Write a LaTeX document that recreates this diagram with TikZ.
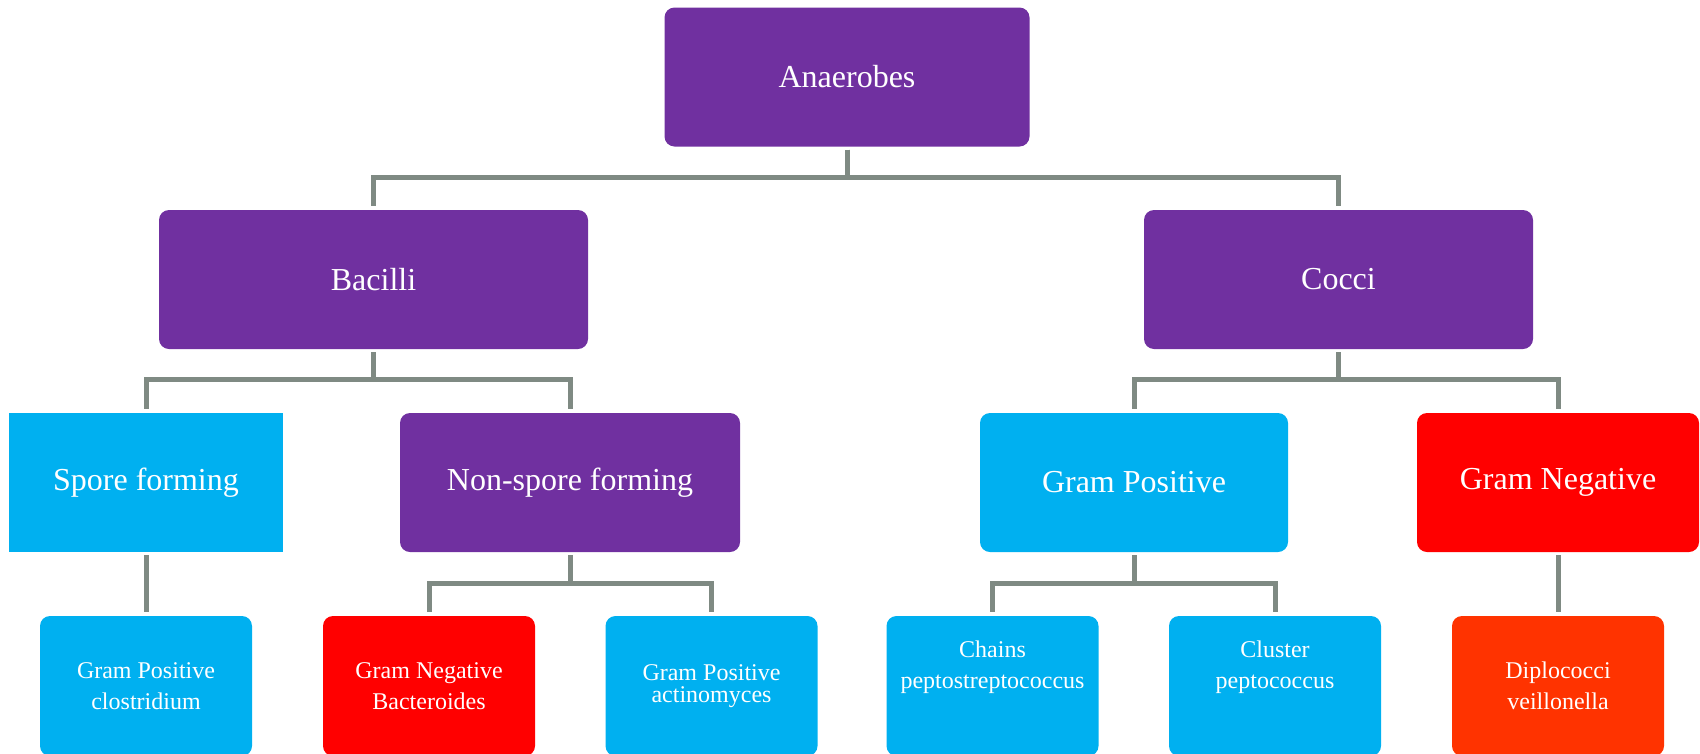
\documentclass[tikz,border=0pt]{standalone}
\usepackage{fontspec}
\setmainfont{Liberation Serif}
\definecolor{purp}{RGB}{112,48,160}
\definecolor{cyanb}{RGB}{0,176,240}
\definecolor{redb}{RGB}{255,0,0}
\definecolor{orred}{RGB}{255,51,0}
\definecolor{conn}{RGB}{127,138,131}
\begin{document}
\begin{tikzpicture}[x=1pt,y=-1pt,
  box/.style={rounded corners=10pt, inner sep=0pt, text=white, align=center},
  big/.style={box, minimum height=139pt, font=\fontsize{32}{38}\selectfont},
  small/.style={box, minimum height=140pt, minimum width=212pt, font=\fontsize{24}{31}\selectfont},
  smalltext/.style={text=white, align=center, inner sep=0pt, font=\fontsize{24}{31}\selectfont},
  link/.style={draw=conn, line width=5pt, shorten <=3pt, shorten >=4pt}]
\useasboundingbox (0,0) rectangle (1700,753);
% level 0-2
\node[big, fill=purp, minimum width=365pt] (anaer) at (847,77) {Anaerobes};
\node[big, fill=purp, minimum width=429pt] (bacilli) at (373.5,279.5) {Bacilli};
\node[big, fill=purp, minimum width=389pt] (cocci) at (1338.5,279.5) {Cocci};
\node[big, fill=cyanb, sharp corners, minimum width=274pt] (spore) at (146,482.5) {Spore forming};
\node[big, fill=purp, minimum width=340pt] (nonspore) at (570,482.5) {Non-spore forming};
\node[big, fill=cyanb, minimum width=308pt] (gpos) at (1134,482.5) {Gram Positive};
\node[big, fill=redb, minimum width=282pt] (gneg) at (1558,482.5) {Gram Negative};
% level 3
\node[small, fill=cyanb] (clos) at (146,686) {Gram Positive\\clostridium};
\node[small, fill=redb] (bact) at (429,686) {Gram Negative\\Bacteroides};
\node[small, fill=cyanb, font=\fontsize{24}{22}\selectfont] (actino) at (711.5,686) {Gram Positive\\actinomyces};
\node[small, fill=cyanb] (chains) at (992.5,686) {};
\node[smalltext] (chainsT) at ([yshift=19pt]chains.center) {Chains\\peptostreptococcus};
\node[small, fill=cyanb] (cluster) at (1275,686) {};
\node[smalltext] (clusterT) at ([yshift=19pt]cluster.center) {Cluster\\peptococcus};
\node[small, fill=orred] (diplo) at (1558,686) {Diplococci\\veillonella};
% connectors
\draw[link] (anaer.south) -- ++(0,31) -| (bacilli.north);
\draw[link] (anaer.south) -- ++(0,31) -| (cocci.north);
\draw[link] (bacilli.south) -- ++(0,30) -| (spore.north);
\draw[link] (bacilli.south) -- ++(0,30) -| (nonspore.north);
\draw[link] (cocci.south) -- ++(0,30) -| (gpos.north);
\draw[link] (cocci.south) -- ++(0,30) -| (gneg.north);
\draw[link] (spore.south) -- (clos.north);
\draw[link] (nonspore.south) -- ++(0,31) -| (bact.north);
\draw[link] (nonspore.south) -- ++(0,31) -| (actino.north);
\draw[link] (gpos.south) -- ++(0,31) -| (chains.north);
\draw[link] (gpos.south) -- ++(0,31) -| (cluster.north);
\draw[link] (gneg.south) -- (diplo.north);
\end{tikzpicture}
\end{document}
